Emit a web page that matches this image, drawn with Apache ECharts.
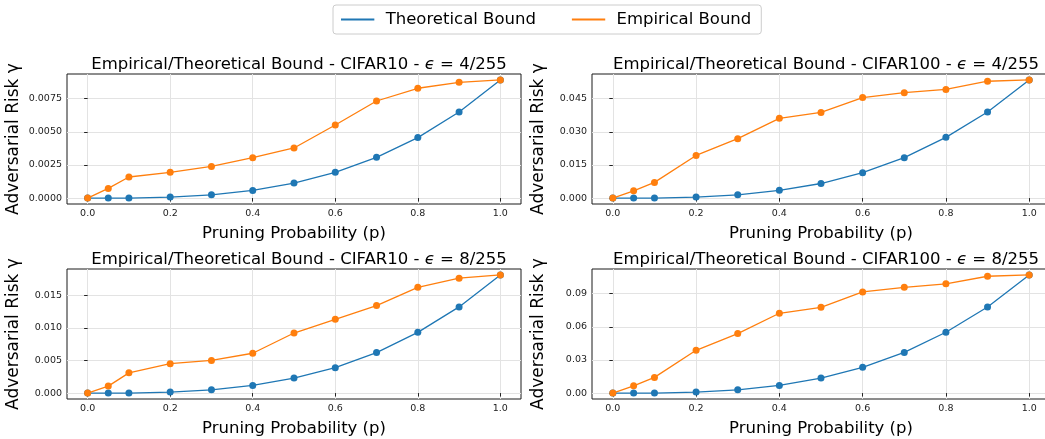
<!DOCTYPE html>
<html>
<head>
<meta charset="utf-8">
<script src="https://cdn.jsdelivr.net/npm/echarts@6/dist/echarts.min.js"></script>
<style>
  html, body { margin: 0; padding: 0; background: #fff; }
  #chart { width: 1045px; height: 439px; }
</style>
</head>
<body>
<div id="chart"></div>
<script>
// pruning probability p
const pValues = [0, 0.05, 0.1, 0.2, 0.3, 0.4, 0.5, 0.6, 0.7, 0.8, 0.9, 1.0];
const xTicks = [0, 0.2, 0.4, 0.6, 0.8, 1.0];

// CIFAR10 eps=4/255
const c10e4Theo = [0, 0, 0, 0.000075, 0.00025, 0.00058, 0.00113, 0.00194, 0.00307, 0.00456, 0.00649, 0.00891];
const c10e4Emp = [0, 0.00073, 0.00159, 0.00194, 0.00239, 0.00305, 0.00378, 0.00551, 0.00732, 0.00828, 0.00873, 0.00891];
const c10e4Ticks = [0, 0.0025, 0.005, 0.0075];

// CIFAR100 eps=4/255
const c100e4Theo = [0, 0, 0, 0.00045, 0.0015, 0.0035, 0.0066, 0.0115, 0.0183, 0.0275, 0.039, 0.0535];
const c100e4Emp = [0, 0.0033, 0.0071, 0.0193, 0.0269, 0.0361, 0.0388, 0.0455, 0.0477, 0.0492, 0.0529, 0.0535];
const c100e4Ticks = [0, 0.015, 0.03, 0.045];

// CIFAR10 eps=8/255
const c10e8Theo = [0, 0, 0, 0.00015, 0.0005, 0.00117, 0.0023, 0.0039, 0.0062, 0.0093, 0.0132, 0.0181];
const c10e8Emp = [0, 0.00107, 0.0031, 0.0045, 0.005, 0.0061, 0.0092, 0.0113, 0.0134, 0.0162, 0.0176, 0.0181];
const c10e8Ticks = [0, 0.005, 0.01, 0.015];

// CIFAR100 eps=8/255
const c100e8Theo = [0, 0, 0, 0.0009, 0.003, 0.0069, 0.0136, 0.0233, 0.0368, 0.055, 0.0779, 0.1069];
const c100e8Emp = [0, 0.0066, 0.0142, 0.0387, 0.0538, 0.0722, 0.0776, 0.0915, 0.0957, 0.0988, 0.1057, 0.1069];
const c100e8Ticks = [0, 0.03, 0.06, 0.09];

const titles = [
  "Empirical/Theoretical Bound - CIFAR10 - {e|\u03f5} = 4/255",
  "Empirical/Theoretical Bound - CIFAR100 - {e|\u03f5} = 4/255",
  "Empirical/Theoretical Bound - CIFAR10 - {e|\u03f5} = 8/255",
  "Empirical/Theoretical Bound - CIFAR100 - {e|\u03f5} = 8/255"
];

const BLUE = "#1f77b4";
const ORANGE = "#ff7f0e";
const FONT = "DejaVu Sans";

const panels = [
  { theo: c10e4Theo, emp: c10e4Emp, ticks: c10e4Ticks, dec: 4, left: 67, width: 454, top: 74 },
  { theo: c100e4Theo, emp: c100e4Emp, ticks: c100e4Ticks, dec: 3, left: 592, width: 458, top: 74 },
  { theo: c10e8Theo, emp: c10e8Emp, ticks: c10e8Ticks, dec: 3, left: 67, width: 454, top: 269 },
  { theo: c100e8Theo, emp: c100e8Emp, ticks: c100e8Ticks, dec: 2, left: 592, width: 458, top: 269 }
];
const plotH = 130;

const grid = [], xAxis = [], yAxis = [], series = [], title = [];

panels.forEach((pn, i) => {
  const maxV = Math.max(...pn.theo, ...pn.emp);
  grid.push({
    left: pn.left, top: pn.top, width: pn.width, height: plotH,
    show: true, borderColor: "#1a1a1a", borderWidth: 1, backgroundColor: "transparent",
    outerBoundsMode: "none", containLabel: false
  });
  title.push({
    text: titles[i],
    left: pn.left + pn.width / 2, top: pn.top - 23, textAlign: "center",
    textStyle: {
      fontFamily: FONT, fontSize: 16.5, fontWeight: "normal", color: "#000",
      rich: { e: { fontFamily: FONT, fontSize: 16.5, fontStyle: "italic", color: "#000" } }
    }
  });
  xAxis.push({
    type: "value", gridIndex: i, min: -0.05, max: 1.05,
    name: "Pruning Probability (p)", nameLocation: "middle", nameGap: 21,
    nameTextStyle: { fontFamily: FONT, fontSize: 16.5, color: "#000" },
    axisLine: { show: false },
    axisTick: { show: true, length: 3.5, customValues: xTicks, lineStyle: { color: "#222" } },
    axisLabel: { customValues: xTicks, fontFamily: FONT, fontSize: 9.5, color: "#222", margin: 5,
      formatter: v => v.toFixed(1) },
    splitLine: { show: true, lineStyle: { color: "#e3e3e3", width: 1 } }
  });
  yAxis.push({
    type: "value", gridIndex: i, min: -0.05 * maxV, max: 1.05 * maxV,
    name: "Adversarial Risk \u03b3", nameLocation: "middle", nameGap: 45, nameRotate: 90,
    nameTextStyle: { fontFamily: FONT, fontSize: 17, color: "#000" },
    axisLine: { show: false },
    axisTick: { show: true, length: 3.5, customValues: pn.ticks, lineStyle: { color: "#222" } },
    axisLabel: { customValues: pn.ticks, fontFamily: FONT, fontSize: 9.5, color: "#222", margin: 5,
      formatter: v => v.toFixed(pn.dec) },
    splitLine: { show: true, lineStyle: { color: "#e3e3e3", width: 1 } }
  });
  series.push({
    name: "Theoretical Bound", type: "line", xAxisIndex: i, yAxisIndex: i,
    data: pValues.map((p, k) => [p, pn.theo[k]]),
    symbol: "circle", symbolSize: 7, color: BLUE,
    lineStyle: { width: 1.3, color: BLUE }, itemStyle: { color: BLUE },
    animation: false, z: 3
  });
  series.push({
    name: "Empirical Bound", type: "line", xAxisIndex: i, yAxisIndex: i,
    data: pValues.map((p, k) => [p, pn.emp[k]]),
    symbol: "circle", symbolSize: 7, color: ORANGE,
    lineStyle: { width: 1.3, color: ORANGE }, itemStyle: { color: ORANGE },
    animation: false, z: 4
  });
});

const chart = echarts.init(document.getElementById("chart"), null, { renderer: "canvas" });
chart.setOption({
  animation: false,
  backgroundColor: "#fff",
  title: title,
  legend: {
    top: 5, left: 333, width: 427, height: 30,
    data: [
      { name: "Theoretical Bound", icon: "path://M0,0 L1,0 L1,0.06 L0,0.06 Z" },
      { name: "Empirical Bound", icon: "path://M0,0 L1,0 L1,0.06 L0,0.06 Z" }
    ],
    itemWidth: 34, itemHeight: 2, itemGap: 36,
    padding: [6, 10, 6, 8],
    borderColor: "#ccc", borderWidth: 1, borderRadius: 3,
    textStyle: { fontFamily: FONT, fontSize: 16.5, color: "#000", padding: [0, 0, 0, 6] }
  },
  grid: grid,
  xAxis: xAxis,
  yAxis: yAxis,
  series: series
});
</script>
</body>
</html>
